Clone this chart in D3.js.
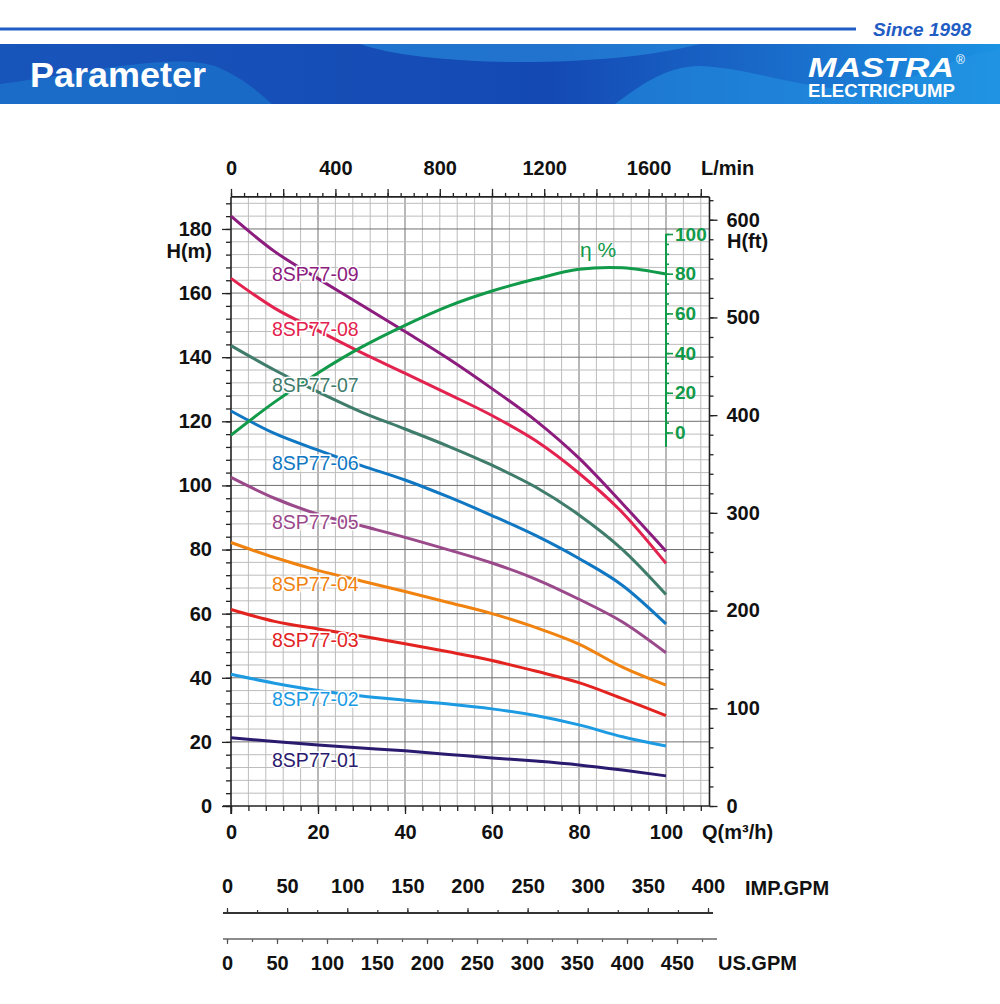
<!DOCTYPE html>
<html><head><meta charset="utf-8">
<script src="https://cdn.jsdelivr.net/npm/d3@7"></script>
<style>
body{margin:0;background:#fff}
svg{display:block;font-family:"Liberation Sans",Arial,Helvetica,sans-serif}
</style>
</head><body>
<svg id="c" width="1000" height="1004"></svg>
<script>
// ---------- data ----------
const flow = [0,10,20,30,40,50,60,70,80,90,100];           // Q (m3/h)
const models = ["8SP77-09","8SP77-08","8SP77-07","8SP77-06","8SP77-05","8SP77-04","8SP77-03","8SP77-02","8SP77-01"];
const head09 = [184.0,173.0,164.5,156.3,148.0,139.5,130.2,120.3,108.5,94.3,79.5];
const head08 = [164.6,155.3,148.3,141.4,135.0,128.5,121.8,114.0,103.8,91.5,75.7];
const head07 = [143.6,136.0,129.2,122.9,117.6,112.2,106.3,99.5,90.8,80.0,66.0];
const head06 = [123.2,116.2,111.0,106.2,101.7,96.4,90.6,84.4,77.2,68.8,56.8];
const head05 = [102.5,96.0,91.0,87.4,83.8,79.9,75.8,70.8,64.5,57.4,47.8];
const head04 = [82.2,77.5,73.5,70.2,66.9,63.5,60.0,55.7,50.5,43.3,37.7];
const head03 = [61.3,57.6,55.2,53.0,50.6,48.1,45.4,42.1,38.5,33.5,28.2];
const head02 = [41.1,38.3,36.0,34.3,33.0,31.8,30.3,28.2,25.3,21.6,18.7];
const head01 = [21.3,20.1,19.0,18.1,17.2,16.1,15.0,14.0,12.8,11.2,9.4];
const efficiency = [-1.3,15.3,30.0,43.0,54.0,63.7,71.3,77.3,82.2,83.0,79.8]; // eta %
// label anchor heads (m) where each model name sits, at Q = 9.4
const labelHead = [163.75,146.6,129.2,104.8,86.4,67.1,49.75,31.2,12.3];

const hTicks   = [0,20,40,60,80,100,120,140,160,180];
const qTicks   = [0,20,40,60,80,100];
const lminTicks= [0,400,800,1200,1600];
const ftTicks  = [0,100,200,300,400,500,600];
const etaTicks = [0,20,40,60,80,100];
const impTicks = [0,50,100,150,200,250,300,350,400];
const usTicks  = [0,50,100,150,200,250,300,350,400,450];

// ---------- styles ----------
const colors = ["#8c1d7f","#e3234f","#3f7c6b","#1077c3","#9a4a8b","#f08210","#e2231f","#1c9be2","#2b1b6f"];
const GREEN = "#119a49";
const BOLD = "bold 20px 'Liberation Sans',Arial,sans-serif";
const fmt = d => String(d);

const headSeries = [head09,head08,head07,head06,head05,head04,head03,head02,head01];
const series = models.map((m,i)=>({name:m, color:colors[i], pts: flow.map((q,j)=>[q, headSeries[i][j]]), lab: labelHead[i]}));

const svg = d3.select("#c");

// ---------- header ----------
const defs = svg.append("defs");
const g1 = defs.append("linearGradient").attr("id","ban").attr("x1","0").attr("x2","1").attr("y1","0").attr("y2","0");
g1.append("stop").attr("offset","0%").attr("stop-color","#1855bb");
g1.append("stop").attr("offset","55%").attr("stop-color","#1449b3");
g1.append("stop").attr("offset","80%").attr("stop-color","#1a6fcd");
g1.append("stop").attr("offset","100%").attr("stop-color","#1b92e2");
svg.append("line").attr("x1",0).attr("x2",856).attr("y1",29).attr("y2",29).attr("stroke","#1f5cc3").attr("stroke-width",3);
svg.append("text").attr("x",873).attr("y",36).attr("fill","#1f5cc3").style("font","italic bold 19px 'Liberation Sans',Arial,sans-serif").text("Since 1998");
svg.append("rect").attr("x",0).attr("y",44).attr("width",1000).attr("height",60).attr("fill","url(#ban)");
svg.append("path").attr("d","M360,44 C420,66 600,70 700,44 Z").attr("fill","#2a8fe0").attr("opacity",0.6);
svg.append("path").attr("d","M0,104 L0,84 C80,74 170,52 215,66 C245,78 262,96 272,104 Z").attr("fill","#1e7fd3").attr("opacity",0.55);
svg.append("path").attr("d","M615,104 C640,86 665,66 700,66 C760,68 820,98 880,86 C930,74 960,54 1000,50 L1000,104 Z").attr("fill","#2596e4").attr("opacity",0.55);
svg.append("text").attr("x",30).attr("y",87).attr("fill","#fff").attr("textLength",176).attr("lengthAdjust","spacingAndGlyphs")
  .style("font","bold 35px 'Liberation Sans',Arial,sans-serif").text("Parameter");
svg.append("text").attr("x",808).attr("y",77).attr("fill","#fff").attr("textLength",146).attr("lengthAdjust","spacingAndGlyphs")
  .style("font","italic 900 27px 'Liberation Sans',Arial,sans-serif").text("MASTRA");
svg.append("text").attr("x",956).attr("y",64).attr("fill","#fff").style("font","12px 'Liberation Sans',Arial,sans-serif").text("®");
svg.append("text").attr("x",808).attr("y",97).attr("fill","#fff").attr("textLength",147).attr("lengthAdjust","spacingAndGlyphs")
  .style("font","bold 18px 'Liberation Sans',Arial,sans-serif").text("ELECTRICPUMP");

// ---------- scales ----------
const x = d3.scaleLinear().domain([0,110]).range([231,709.5]);
const y = d3.scaleLinear().domain([0,190]).range([806,196.9]);
const yFt = d3.scaleLinear().domain([0,190/0.3048]).range([806,196.9]);
const xL = d3.scaleLinear().domain([0,110*1000/60]).range([231,709.5]);
const yEta = d3.scaleLinear().domain([0,100]).range([432.5,234]);
const xImp = d3.scaleLinear().domain([0,400]).range([227,708]);
const xUs = d3.scaleLinear().domain([0,450]).range([227,677]);

// ---------- grid ----------
const grid = svg.append("g");
d3.range(4,109,4).forEach(q=>{
  grid.append("line").attr("x1",x(q)).attr("x2",x(q)).attr("y1",y(0)).attr("y2",y(190))
    .attr("stroke", q%20===0 ? "#707070" : "#bcbcbc").attr("stroke-width",1);
});
d3.range(4,189,4).forEach(h=>{
  grid.append("line").attr("x1",x(0)).attr("x2",x(110)).attr("y1",y(h)).attr("y2",y(h))
    .attr("stroke", h%20===0 ? "#707070" : "#bcbcbc").attr("stroke-width",1);
});

function styleAxis(g, color){
  g.selectAll("path.domain").remove();
  g.selectAll(".tick line").attr("stroke",color||"#222").attr("stroke-width",1.3);
  g.selectAll(".tick text").style("font",BOLD).attr("fill",color||"#111");
}

// left H(m)
styleAxis(svg.append("g").attr("transform",`translate(${x(0)},0)`).call(d3.axisLeft(y).tickValues(d3.range(0,189,4)).tickSize(5).tickFormat("")));
styleAxis(svg.append("g").attr("transform",`translate(${x(0)},0)`).call(d3.axisLeft(y).tickValues(hTicks).tickSize(9).tickPadding(10).tickFormat(fmt)));
// bottom Q
styleAxis(svg.append("g").attr("transform",`translate(0,${y(0)})`).call(d3.axisBottom(x).tickValues(d3.range(0,109,4)).tickSize(5).tickFormat("")));
styleAxis(svg.append("g").attr("transform",`translate(0,${y(0)})`).call(d3.axisBottom(x).tickValues(qTicks).tickSize(8).tickPadding(11).tickFormat(fmt)));
// top L/min
styleAxis(svg.append("g").attr("transform",`translate(0,${y(190)})`).call(d3.axisTop(xL).tickValues(d3.range(0,1801,50)).tickSize(4).tickFormat("")));
styleAxis(svg.append("g").attr("transform",`translate(0,${y(190)})`).call(d3.axisTop(xL).tickValues(d3.range(0,1801,200)).tickSize(8).tickFormat("")));
styleAxis(svg.append("g").attr("transform",`translate(0,${y(190)})`).call(d3.axisTop(xL).tickValues(lminTicks).tickSize(0).tickPadding(22).tickFormat(fmt)));
// right H(ft)
styleAxis(svg.append("g").attr("transform",`translate(${x(110)},0)`).call(d3.axisRight(yFt).tickValues(d3.range(0,621,20)).tickSize(4).tickFormat("")));
styleAxis(svg.append("g").attr("transform",`translate(${x(110)},0)`).call(d3.axisRight(yFt).tickValues(ftTicks).tickSize(8).tickPadding(9).tickFormat(fmt)));

// frame lines
const frame = svg.append("g").attr("stroke","#222").attr("stroke-width",1.6);
frame.append("line").attr("x1",x(0)).attr("x2",x(0)).attr("y1",y(190)).attr("y2",y(0)+8);
frame.append("line").attr("x1",x(0)-8).attr("x2",x(110)).attr("y1",y(0)).attr("y2",y(0));
frame.append("line").attr("x1",x(0)).attr("x2",x(110)).attr("y1",y(190)).attr("y2",y(190));
frame.append("line").attr("x1",x(110)).attr("x2",x(110)).attr("y1",y(190)).attr("y2",y(0));

// axis titles
const T = (tx,ty,txt,anchor,col)=>svg.append("text").attr("x",tx).attr("y",ty).attr("text-anchor",anchor||"start")
  .attr("dominant-baseline","central").attr("fill",col||"#111").style("font",BOLD).text(txt);
T(212,251,"H(m)","end");
T(727,241,"H(ft)");
T(701,168,"L/min");
T(702,832,"Q(m³/h)");

// efficiency axis
const ea = svg.append("g").attr("transform",`translate(${x(100)},0)`);
ea.call(d3.axisRight(yEta).tickValues(d3.range(0,101,5)).tickSize(3).tickFormat(""));
ea.selectAll("path.domain").remove();
ea.selectAll(".tick line").attr("stroke",GREEN).attr("stroke-width",1.6);
const ea2 = svg.append("g").attr("transform",`translate(${x(100)},0)`).call(d3.axisRight(yEta).tickValues(etaTicks).tickSize(7).tickPadding(2).tickFormat(fmt));
ea2.selectAll("path.domain").remove();
ea2.selectAll(".tick line").attr("stroke",GREEN).attr("stroke-width",1.6);
ea2.selectAll(".tick text").style("font","bold 19px 'Liberation Sans',Arial,sans-serif").attr("fill",GREEN);
svg.append("line").attr("x1",x(100)).attr("x2",x(100)).attr("y1",yEta(100)).attr("y2",447).attr("stroke",GREEN).attr("stroke-width",2);
svg.append("text").attr("x",580).attr("y",257).attr("fill",GREEN).style("font","21px 'Liberation Sans',Arial,sans-serif").text("η %");

// ---------- curves ----------
const line = d3.line().x(d=>x(d[0])).y(d=>y(d[1])).curve(d3.curveMonotoneX);
series.forEach(s=>{
  svg.append("path").attr("d",line(s.pts)).attr("fill","none").attr("stroke",s.color).attr("stroke-width",3).attr("stroke-linejoin","round");
});
const effLine = d3.line().x(d=>x(d[0])).y(d=>yEta(d[1])).curve(d3.curveCatmullRom);
svg.append("path").attr("d",effLine(flow.map((q,i)=>[q,efficiency[i]]))).attr("fill","none").attr("stroke",GREEN).attr("stroke-width",3);

series.forEach(s=>{
  svg.append("text").attr("x",x(9.4)).attr("y",y(s.lab)).attr("fill",s.color)
    .attr("stroke","#fff").attr("stroke-width",3).attr("paint-order","stroke")
    .style("font","19.5px 'Liberation Sans',Arial,sans-serif").text(s.name);
});

// ---------- GPM scales ----------
const imp = svg.append("g").attr("transform","translate(0,913)");
imp.call(d3.axisTop(xImp).tickValues(d3.range(0,401,25)).tickSize(3).tickFormat(""));
imp.call(g=>g.select("path.domain").remove());
const imp2 = svg.append("g").attr("transform","translate(0,913)").call(d3.axisTop(xImp).tickValues(impTicks).tickSize(5).tickPadding(15).tickFormat(fmt));
imp2.select("path.domain").remove();
[imp,imp2].forEach(g=>{g.selectAll(".tick line").attr("stroke","#333").attr("stroke-width",1.2);g.selectAll(".tick text").style("font",BOLD).attr("fill","#111");});
svg.append("line").attr("x1",223).attr("x2",713).attr("y1",913).attr("y2",913).attr("stroke","#333").attr("stroke-width",2);
T(745,888,"IMP.GPM");

const us = svg.append("g").attr("transform","translate(0,939)");
us.call(d3.axisBottom(xUs).tickValues(d3.range(0,476,25)).tickSize(3).tickFormat(""));
us.select("path.domain").remove();
const us2 = svg.append("g").attr("transform","translate(0,939)").call(d3.axisBottom(xUs).tickValues(usTicks).tickSize(5).tickPadding(12).tickFormat(fmt));
us2.select("path.domain").remove();
[us,us2].forEach(g=>{g.selectAll(".tick line").attr("stroke","#555").attr("stroke-width",1.2);g.selectAll(".tick text").style("font",BOLD).attr("fill","#111");});
svg.append("line").attr("x1",223).attr("x2",717).attr("y1",939).attr("y2",939).attr("stroke","#666").attr("stroke-width",1.6);
T(718,963,"US.GPM");
</script>
</body></html>
